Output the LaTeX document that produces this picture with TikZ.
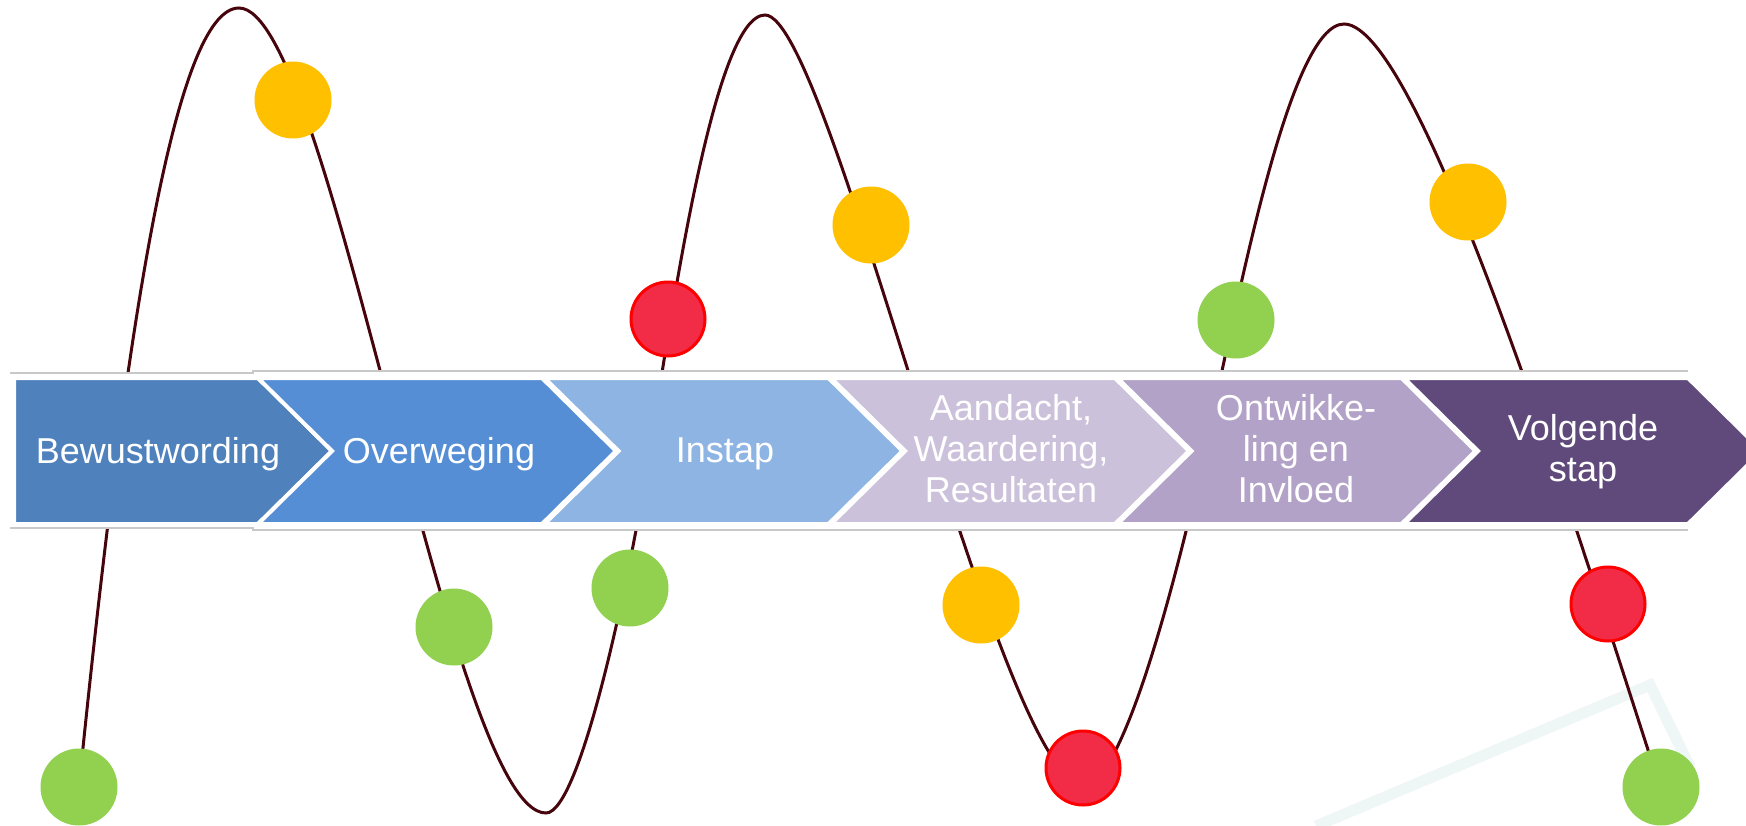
\documentclass[tikz,border=0pt]{standalone}
\usepackage{fontspec}
\setmainfont{Liberation Sans}
\definecolor{wavecol}{RGB}{70,5,12}
\definecolor{cA}{RGB}{79,129,189}
\definecolor{cB}{RGB}{85,142,213}
\definecolor{cC}{RGB}{142,180,227}
\definecolor{cD}{RGB}{204,193,218}
\definecolor{cE}{RGB}{179,162,199}
\definecolor{cF}{RGB}{96,74,123}
\definecolor{dotyellow}{RGB}{255,192,0}
\definecolor{dotgreen}{RGB}{146,208,80}
\definecolor{dotred}{RGB}{242,43,70}
\definecolor{rimred}{RGB}{255,0,0}
\definecolor{rulegray}{RGB}{200,200,200}
\definecolor{ghost}{RGB}{239,246,246}
\begin{document}
\begin{tikzpicture}[x=1pt,y=-1pt,
  chev/.style={draw=white, line width=4pt, line join=miter},
  lbl/.style={text=white, font=\fontsize{36}{41}\selectfont, align=center, inner sep=0pt},
  dot/.style={circle, minimum size=77pt, inner sep=0pt},
  ydot/.style={dot, fill=dotyellow},
  gdot/.style={dot, fill=dotgreen},
  rdot/.style={dot, minimum size=74pt, fill=dotred, draw=rimred, line width=3pt},
  wave/.style={draw=wavecol, line width=3pt},
  rule/.style={draw=rulegray, line width=1.5pt}]
\useasboundingbox (0,0) rectangle (1746,825);
\clip (0,0) rectangle (1746,825);
\fill[white] (0,0) rectangle (1746,825);

% faint frame corner in the lower right
\draw[ghost, line width=11pt, line join=miter] (1316,826) -- (1650,685) -- (1690,767);

% the wave behind the process band (peaks and troughs joined by cubic arcs)
\coordinate (w0) at (79,787);
\coordinate (p1) at (239,8);
\coordinate (t1) at (546,813);
\coordinate (m1) at (650,450);
\coordinate (p2) at (765,15);
\coordinate (t2) at (1084,785);
\coordinate (m2) at (1205,450);
\coordinate (p3) at (1344,24);
\coordinate (w1) at (1660,787);
\draw[wave] (w0)
  .. controls (125,330) and (175,8) .. (p1)
  .. controls (330,8) and (450,813) .. (t1)
  .. controls (581,813) and (631.5,568.6) .. (m1)
  .. controls (673,301.8) and (715,15) .. (p2)
  .. controls (830,15) and (1000,785) .. (t2)
  .. controls (1124,785) and (1179.2,567.2) .. (m2)
  .. controls (1237.3,303.5) and (1289,24) .. (p3)
  .. controls (1420,24) and (1580,540) .. (w1);

% process band: thin rules above and below
\fill[white] (10,373) rectangle (256,528);
\fill[white] (252,371) rectangle (1690,530);
\draw[rule] (10,373) -- (254,373);
\draw[rule] (10,528) -- (254,528);
\draw[rule] (252,371) -- (1688,371);
\draw[rule] (252,530) -- (1688,530);

% chevrons
\path[chev, fill=cA] (14,378) -- (258,378) -- (332,451) -- (258,524) -- (14,524) -- cycle;
\foreach \L/\c in {258/cB, 544.5/cC, 831/cD, 1117.5/cE, 1404/cF} {
  \path[chev, fill=\c] (\L,378) -- ({\L+284},378) -- ({\L+358},451)
        -- ({\L+284},524) -- (\L,524) -- ({\L+74},451) -- cycle;
}

% labels
\node[lbl] (s1) at (158,454) {Bewustwording};
\node[lbl] (s2) at (439,454) {Overweging};
\node[lbl] (s3) at (725,454) {Instap};
\node[lbl] (s4) at (1011,449) {Aandacht,\\Waardering,\\Resultaten};
\node[lbl] (s5) at (1296,449) {Ontwikke-\\ling en\\Invloed};
\node[lbl] (s6) at (1583,452) {Volgende\\stap};

% markers along the wave
\node[gdot] (g1) at (79,787) {};
\node[ydot] (y1) at (293,100) {};
\node[gdot] (g2) at (454,627) {};
\node[gdot] (g3) at (630,588) {};
\node[rdot] (r1) at (668,319) {};
\node[ydot] (y2) at (871,225) {};
\node[ydot] (y3) at (981,605) {};
\node[rdot] (r2) at (1083,768) {};
\node[gdot] (g4) at (1236,320) {};
\node[ydot] (y4) at (1468,202) {};
\node[rdot] (r3) at (1608,604) {};
\node[gdot] (g5) at (1661,787) {};
\end{tikzpicture}
\end{document}
